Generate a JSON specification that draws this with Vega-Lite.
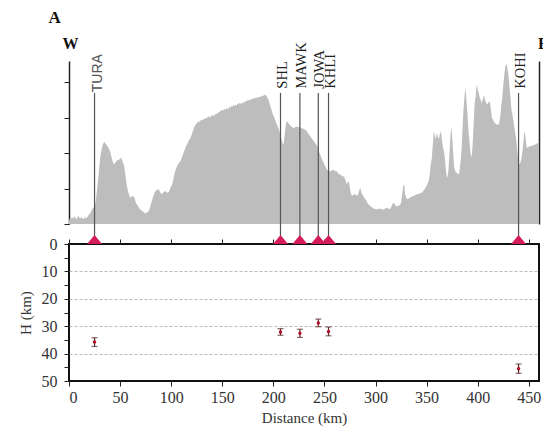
{
"$schema": "https://vega.github.io/schema/vega-lite/v6.json",
"padding": {"left": 17, "top": 9, "right": 0, "bottom": 0},
"background": "white",
"config": {
  "font": "Liberation Serif",
  "view": {"stroke": null},
  "style": {"guide-label": {"font": "Liberation Serif"}, "guide-title": {"font": "Liberation Serif"}},
  "axis": {"labelFont": "Liberation Serif", "titleFont": "Liberation Serif", "labelFontSize": 16, "titleFontSize": 15, "labelColor": "#333333", "titleColor": "#333333", "titleFontWeight": "normal", "domainColor": "#222222", "tickColor": "#222222", "grid": false}
},
"datasets": {
"stations": [
 {"station": "TURA", "dist": 25, "H": 35.8, "err": 1.6},
 {"station": "SHL", "dist": 207, "H": 32.1, "err": 1.2},
 {"station": "MAWK", "dist": 226, "H": 32.6, "err": 1.5},
 {"station": "JOWA", "dist": 244, "H": 28.8, "err": 1.4},
 {"station": "KHLI", "dist": 254, "H": 31.9, "err": 1.6},
 {"station": "KOHI", "dist": 440, "H": 45.5, "err": 1.7}
],
"topo": [
{"d":0,"e":50},{"d":1,"e":85},{"d":2,"e":70},{"d":3,"e":100},{"d":4,"e":75},{"d":5,"e":110},{"d":6,"e":90},{"d":7,"e":70},{"d":8,"e":80},{"d":9,"e":115},{"d":10,"e":90},{"d":11,"e":75},{"d":12,"e":100},{"d":13,"e":85},{"d":14,"e":70},{"d":15,"e":80},{"d":16,"e":95},{"d":17,"e":80},{"d":18,"e":100},{"d":19,"e":120},{"d":20,"e":140},{"d":21,"e":150},{"d":22,"e":190},{"d":23,"e":220},{"d":24,"e":230},{"d":25,"e":250},{"d":26,"e":300},{"d":27,"e":420},{"d":28,"e":560},{"d":29,"e":700},{"d":30,"e":860},{"d":31,"e":980},{"d":32,"e":1060},{"d":33,"e":1120},{"d":34,"e":1150},{"d":35,"e":1155},{"d":36,"e":1130},{"d":37,"e":1110},{"d":38,"e":1085},{"d":39,"e":1070},{"d":40,"e":1030},{"d":41,"e":980},{"d":42,"e":920},{"d":43,"e":870},{"d":44,"e":840},{"d":45,"e":860},{"d":46,"e":880},{"d":47,"e":900},{"d":48,"e":895},{"d":49,"e":910},{"d":50,"e":925},{"d":51,"e":935},{"d":52,"e":900},{"d":53,"e":860},{"d":54,"e":820},{"d":55,"e":720},{"d":56,"e":600},{"d":57,"e":510},{"d":58,"e":450},{"d":59,"e":400},{"d":60,"e":370},{"d":61,"e":380},{"d":62,"e":395},{"d":63,"e":390},{"d":64,"e":370},{"d":65,"e":320},{"d":66,"e":280},{"d":67,"e":270},{"d":68,"e":240},{"d":69,"e":215},{"d":70,"e":200},{"d":71,"e":190},{"d":72,"e":180},{"d":73,"e":165},{"d":74,"e":155},{"d":75,"e":150},{"d":76,"e":160},{"d":77,"e":170},{"d":78,"e":185},{"d":79,"e":220},{"d":80,"e":270},{"d":81,"e":320},{"d":82,"e":370},{"d":83,"e":410},{"d":84,"e":450},{"d":85,"e":470},{"d":86,"e":480},{"d":87,"e":495},{"d":88,"e":480},{"d":89,"e":455},{"d":90,"e":430},{"d":91,"e":425},{"d":92,"e":440},{"d":93,"e":455},{"d":94,"e":465},{"d":95,"e":450},{"d":96,"e":445},{"d":97,"e":440},{"d":98,"e":460},{"d":99,"e":500},{"d":100,"e":530},{"d":101,"e":560},{"d":102,"e":620},{"d":103,"e":690},{"d":104,"e":745},{"d":105,"e":790},{"d":106,"e":820},{"d":107,"e":850},{"d":108,"e":870},{"d":109,"e":885},{"d":110,"e":920},{"d":111,"e":960},{"d":112,"e":1000},{"d":113,"e":1040},{"d":114,"e":1075},{"d":115,"e":1110},{"d":116,"e":1140},{"d":117,"e":1170},{"d":118,"e":1195},{"d":119,"e":1215},{"d":120,"e":1260},{"d":121,"e":1300},{"d":122,"e":1340},{"d":123,"e":1380},{"d":124,"e":1405},{"d":125,"e":1420},{"d":126,"e":1435},{"d":127,"e":1450},{"d":128,"e":1440},{"d":129,"e":1465},{"d":130,"e":1475},{"d":131,"e":1460},{"d":132,"e":1490},{"d":133,"e":1480},{"d":134,"e":1500},{"d":135,"e":1495},{"d":136,"e":1515},{"d":137,"e":1520},{"d":138,"e":1500},{"d":139,"e":1530},{"d":140,"e":1525},{"d":141,"e":1545},{"d":142,"e":1520},{"d":143,"e":1545},{"d":144,"e":1560},{"d":145,"e":1550},{"d":146,"e":1580},{"d":147,"e":1570},{"d":148,"e":1600},{"d":149,"e":1590},{"d":150,"e":1615},{"d":151,"e":1600},{"d":152,"e":1625},{"d":153,"e":1610},{"d":154,"e":1640},{"d":155,"e":1620},{"d":156,"e":1630},{"d":157,"e":1655},{"d":158,"e":1640},{"d":159,"e":1670},{"d":160,"e":1655},{"d":161,"e":1680},{"d":162,"e":1665},{"d":163,"e":1685},{"d":164,"e":1670},{"d":165,"e":1700},{"d":166,"e":1690},{"d":167,"e":1710},{"d":168,"e":1695},{"d":169,"e":1710},{"d":170,"e":1700},{"d":171,"e":1725},{"d":172,"e":1715},{"d":173,"e":1740},{"d":174,"e":1730},{"d":175,"e":1755},{"d":176,"e":1740},{"d":177,"e":1760},{"d":178,"e":1750},{"d":179,"e":1770},{"d":180,"e":1760},{"d":181,"e":1780},{"d":182,"e":1770},{"d":183,"e":1785},{"d":184,"e":1775},{"d":185,"e":1795},{"d":186,"e":1785},{"d":187,"e":1800},{"d":188,"e":1795},{"d":189,"e":1810},{"d":190,"e":1805},{"d":191,"e":1820},{"d":192,"e":1825},{"d":193,"e":1810},{"d":194,"e":1790},{"d":195,"e":1760},{"d":196,"e":1720},{"d":197,"e":1670},{"d":198,"e":1620},{"d":199,"e":1570},{"d":200,"e":1530},{"d":201,"e":1500},{"d":202,"e":1460},{"d":203,"e":1420},{"d":204,"e":1390},{"d":205,"e":1350},{"d":206,"e":1300},{"d":207,"e":1260},{"d":208,"e":1200},{"d":209,"e":1140},{"d":210,"e":1125},{"d":211,"e":1250},{"d":212,"e":1380},{"d":213,"e":1450},{"d":214,"e":1440},{"d":215,"e":1420},{"d":216,"e":1400},{"d":217,"e":1385},{"d":218,"e":1370},{"d":219,"e":1360},{"d":220,"e":1355},{"d":221,"e":1360},{"d":222,"e":1370},{"d":223,"e":1375},{"d":224,"e":1370},{"d":225,"e":1370},{"d":226,"e":1360},{"d":227,"e":1355},{"d":228,"e":1350},{"d":229,"e":1345},{"d":230,"e":1340},{"d":231,"e":1330},{"d":232,"e":1320},{"d":233,"e":1310},{"d":234,"e":1280},{"d":235,"e":1260},{"d":236,"e":1240},{"d":237,"e":1220},{"d":238,"e":1200},{"d":239,"e":1180},{"d":240,"e":1160},{"d":241,"e":1140},{"d":242,"e":1120},{"d":243,"e":1100},{"d":244,"e":1060},{"d":245,"e":1010},{"d":246,"e":970},{"d":247,"e":940},{"d":248,"e":900},{"d":249,"e":870},{"d":250,"e":840},{"d":251,"e":810},{"d":252,"e":780},{"d":253,"e":760},{"d":254,"e":750},{"d":255,"e":745},{"d":256,"e":745},{"d":257,"e":755},{"d":258,"e":765},{"d":259,"e":760},{"d":260,"e":750},{"d":261,"e":745},{"d":262,"e":745},{"d":263,"e":720},{"d":264,"e":710},{"d":265,"e":700},{"d":266,"e":690},{"d":267,"e":680},{"d":268,"e":675},{"d":269,"e":670},{"d":270,"e":640},{"d":271,"e":600},{"d":272,"e":560},{"d":273,"e":590},{"d":274,"e":600},{"d":275,"e":500},{"d":276,"e":430},{"d":277,"e":395},{"d":278,"e":410},{"d":279,"e":420},{"d":280,"e":420},{"d":281,"e":410},{"d":282,"e":400},{"d":283,"e":420},{"d":284,"e":470},{"d":285,"e":520},{"d":286,"e":450},{"d":287,"e":420},{"d":288,"e":395},{"d":289,"e":370},{"d":290,"e":350},{"d":291,"e":330},{"d":292,"e":300},{"d":293,"e":280},{"d":294,"e":265},{"d":295,"e":255},{"d":296,"e":240},{"d":297,"e":230},{"d":298,"e":220},{"d":299,"e":215},{"d":300,"e":210},{"d":301,"e":205},{"d":302,"e":210},{"d":303,"e":215},{"d":304,"e":210},{"d":305,"e":220},{"d":306,"e":210},{"d":307,"e":205},{"d":308,"e":200},{"d":309,"e":215},{"d":310,"e":225},{"d":311,"e":230},{"d":312,"e":220},{"d":313,"e":215},{"d":314,"e":210},{"d":315,"e":230},{"d":316,"e":260},{"d":317,"e":290},{"d":318,"e":300},{"d":319,"e":270},{"d":320,"e":250},{"d":321,"e":250},{"d":322,"e":255},{"d":323,"e":260},{"d":324,"e":270},{"d":325,"e":300},{"d":326,"e":400},{"d":327,"e":530},{"d":328,"e":560},{"d":329,"e":420},{"d":330,"e":370},{"d":331,"e":350},{"d":332,"e":355},{"d":333,"e":365},{"d":334,"e":375},{"d":335,"e":380},{"d":336,"e":390},{"d":337,"e":395},{"d":338,"e":400},{"d":339,"e":410},{"d":340,"e":415},{"d":341,"e":420},{"d":342,"e":425},{"d":343,"e":430},{"d":344,"e":435},{"d":345,"e":440},{"d":346,"e":450},{"d":347,"e":470},{"d":348,"e":490},{"d":349,"e":510},{"d":350,"e":540},{"d":351,"e":570},{"d":352,"e":605},{"d":353,"e":700},{"d":354,"e":840},{"d":355,"e":920},{"d":356,"e":1100},{"d":357,"e":1310},{"d":358,"e":1250},{"d":359,"e":1200},{"d":360,"e":1285},{"d":361,"e":1230},{"d":362,"e":1200},{"d":363,"e":1270},{"d":364,"e":1310},{"d":365,"e":1180},{"d":366,"e":1080},{"d":367,"e":1030},{"d":368,"e":900},{"d":369,"e":750},{"d":370,"e":650},{"d":371,"e":700},{"d":372,"e":900},{"d":373,"e":1150},{"d":374,"e":1380},{"d":375,"e":1250},{"d":376,"e":1000},{"d":377,"e":800},{"d":378,"e":745},{"d":379,"e":730},{"d":380,"e":715},{"d":381,"e":700},{"d":382,"e":720},{"d":383,"e":850},{"d":384,"e":1000},{"d":385,"e":1300},{"d":386,"e":1600},{"d":387,"e":1780},{"d":388,"e":1920},{"d":389,"e":1750},{"d":390,"e":1550},{"d":391,"e":1310},{"d":392,"e":1150},{"d":393,"e":1000},{"d":394,"e":935},{"d":395,"e":1100},{"d":396,"e":1400},{"d":397,"e":1700},{"d":398,"e":1800},{"d":399,"e":1965},{"d":400,"e":1900},{"d":401,"e":1850},{"d":402,"e":1780},{"d":403,"e":1750},{"d":404,"e":1700},{"d":405,"e":1760},{"d":406,"e":1825},{"d":407,"e":1760},{"d":408,"e":1720},{"d":409,"e":1685},{"d":410,"e":1700},{"d":411,"e":1720},{"d":412,"e":1730},{"d":413,"e":1600},{"d":414,"e":1495},{"d":415,"e":1470},{"d":416,"e":1440},{"d":417,"e":1420},{"d":418,"e":1410},{"d":419,"e":1400},{"d":420,"e":1400},{"d":421,"e":1420},{"d":422,"e":1500},{"d":423,"e":1650},{"d":424,"e":1780},{"d":425,"e":1950},{"d":426,"e":2100},{"d":427,"e":2220},{"d":428,"e":2270},{"d":429,"e":2200},{"d":430,"e":2100},{"d":431,"e":1950},{"d":432,"e":1800},{"d":433,"e":1620},{"d":434,"e":1545},{"d":435,"e":1450},{"d":436,"e":1350},{"d":437,"e":1265},{"d":438,"e":1150},{"d":439,"e":1000},{"d":440,"e":880},{"d":441,"e":840},{"d":442,"e":880},{"d":443,"e":935},{"d":444,"e":1050},{"d":445,"e":1200},{"d":446,"e":1310},{"d":447,"e":1200},{"d":448,"e":1075},{"d":449,"e":1080},{"d":450,"e":1090},{"d":451,"e":1095},{"d":452,"e":1100},{"d":453,"e":1100},{"d":454,"e":1110},{"d":455,"e":1115},{"d":456,"e":1120},{"d":457,"e":1130},{"d":458,"e":1135},{"d":459,"e":1140},{"d":460,"e":1145}
]
},
"bounds": "flush",
"spacing": 20,
"vconcat": [
 {
  "width": 470,
  "height": 163,
  "resolve": {"axis": {"y": "independent"}},
  "layer": [
   {
    "data": {"name": "topo"},
    "mark": {"type": "area", "color": "#bdbdbd", "opacity": 1},
    "encoding": {
     "x": {"field": "d", "type": "quantitative", "scale": {"domain": [0, 460], "nice": false}, "axis": {"orient": "bottom", "title": null, "labels": false, "ticks": false, "domainWidth": 2, "domainColor": "#444444"}},
     "y": {"field": "e", "type": "quantitative", "scale": {"domain": [0, 2300], "nice": false}, "axis": {"orient": "left", "title": null, "labels": false, "values": [0, 500, 1000, 1500, 2000], "tickSize": 5, "domainWidth": 1.5}}
    }
   },
   {
    "data": {"name": "stations"},
    "mark": {"type": "rule", "color": "#555555", "strokeWidth": 1.2},
    "encoding": {
     "x": {"field": "dist", "type": "quantitative", "axis": null},
     "y": {"datum": 1850, "type": "quantitative", "axis": {"orient": "right", "title": null, "labels": false, "ticks": false, "domainWidth": 1.5}},
     "y2": {"datum": -282}
    }
   },
   {
    "data": {"name": "stations"},
    "transform": [{"filter": "datum.station === 'TURA'"}],
    "mark": {"type": "text", "angle": 270, "align": "left", "baseline": "middle", "dy": 3, "font": "Liberation Sans", "fontSize": 14, "color": "#555555"},
    "encoding": {
     "x": {"field": "dist", "type": "quantitative", "axis": null},
     "y": {"datum": 1860, "type": "quantitative", "axis": null},
     "text": {"field": "station"}
    }
   },
   {
    "data": {"name": "stations"},
    "transform": [{"filter": "datum.station !== 'TURA'"}],
    "mark": {"type": "text", "angle": 270, "align": "left", "baseline": "middle", "dy": 2, "font": "Liberation Serif", "fontSize": 14.5, "color": "#222222"},
    "encoding": {
     "x": {"field": "dist", "type": "quantitative", "axis": null},
     "y": {"datum": 1910, "type": "quantitative", "axis": null},
     "text": {"field": "station"}
    }
   },
   {
    "data": {"values": [{}]},
    "mark": {"type": "text", "font": "Liberation Serif", "fontWeight": "bold", "fontSize": 16, "color": "#111111", "baseline": "middle"},
    "encoding": {
     "x": {"datum": 1.5, "type": "quantitative", "axis": null},
     "y": {"datum": 2540, "type": "quantitative", "axis": null},
     "text": {"value": "W"}
    }
   },
   {
    "data": {"values": [{}]},
    "mark": {"type": "text", "font": "Liberation Serif", "fontWeight": "bold", "fontSize": 16, "color": "#111111", "baseline": "middle", "align": "left"},
    "encoding": {
     "x": {"datum": 459, "type": "quantitative", "axis": null},
     "y": {"datum": 2540, "type": "quantitative", "axis": null},
     "text": {"value": "E"}
    }
   },
   {
    "data": {"values": [{}]},
    "mark": {"type": "text", "font": "Liberation Serif", "fontWeight": "bold", "fontSize": 17, "color": "#111111", "baseline": "middle"},
    "encoding": {
     "x": {"datum": -14, "type": "quantitative", "axis": null},
     "y": {"datum": 2900, "type": "quantitative", "axis": null},
     "text": {"value": "A"}
    }
   }
  ]
 },
 {
  "width": 470,
  "height": 137,
  "view": {"stroke": "#111111", "strokeWidth": 2},
  "data": {"name": "stations"},
  "resolve": {"axis": {"x": "independent"}},
  "layer": [
   {
    "mark": {"type": "errorbar", "ticks": {"size": 6, "color": "#5a2828"}, "color": "#5a2828", "thickness": 1.2},
    "encoding": {
     "x": {"field": "dist", "type": "quantitative", "scale": {"domain": [0, 460], "nice": false}, "axis": null},
     "y": {"field": "H", "type": "quantitative", "scale": {"domain": [0, 50], "reverse": true, "nice": false}, "axis": {"title": "H (km)", "labelFont": "Liberation Serif", "titleFont": "Liberation Serif", "values": [0, 5, 10, 15, 20, 25, 30, 35, 40, 45, 50], "labelExpr": "datum.value % 10 === 0 ? datum.label : ''", "tickSize": 5, "labelPadding": 7, "titlePadding": 8, "domain": false, "grid": true, "gridDash": [3, 2], "gridColor": "#bbbbbb", "gridOpacity": {"condition": {"test": "datum.value % 10 === 0 && datum.value > 0 && datum.value < 50", "value": 1}, "value": 0}}},
     "yError": {"field": "err"}
    }
   },
   {
    "mark": {"type": "point", "filled": true, "size": 12, "color": "#b0102a", "opacity": 1},
    "encoding": {
     "x": {"field": "dist", "type": "quantitative", "axis": {"orient": "bottom", "title": "Distance (km)", "labelFont": "Liberation Serif", "titleFont": "Liberation Serif", "values": [0, 50, 100, 150, 200, 250, 300, 350, 400, 450], "tickSize": 5, "labelPadding": 3, "titlePadding": 5, "domain": false}},
     "y": {"field": "H", "type": "quantitative", "axis": {"title": "H (km)", "labelFont": "Liberation Serif", "titleFont": "Liberation Serif", "values": [0, 5, 10, 15, 20, 25, 30, 35, 40, 45, 50], "labelExpr": "datum.value % 10 === 0 ? datum.label : ''", "tickSize": 5, "labelPadding": 7, "titlePadding": 8, "domain": false, "grid": true, "gridDash": [3, 2], "gridColor": "#bbbbbb", "gridOpacity": {"condition": {"test": "datum.value % 10 === 0 && datum.value > 0 && datum.value < 50", "value": 1}, "value": 0}}}
    }
   },
   {
    "mark": {"type": "point", "shape": "M-1,0L0,-1.2L1,0Z", "filled": true, "size": 225, "color": "#d41c5c", "opacity": 1},
    "encoding": {
     "x": {"field": "dist", "type": "quantitative", "axis": {"orient": "top", "title": null, "labels": false, "values": [0, 50, 100, 150, 200, 250, 300, 350, 400, 450], "tickSize": 5, "domain": false}},
     "y": {"datum": 0, "type": "quantitative", "axis": {"title": "H (km)", "labelFont": "Liberation Serif", "titleFont": "Liberation Serif", "values": [0, 5, 10, 15, 20, 25, 30, 35, 40, 45, 50], "labelExpr": "datum.value % 10 === 0 ? datum.label : ''", "tickSize": 5, "labelPadding": 7, "titlePadding": 8, "domain": false, "grid": true, "gridDash": [3, 2], "gridColor": "#bbbbbb", "gridOpacity": {"condition": {"test": "datum.value % 10 === 0 && datum.value > 0 && datum.value < 50", "value": 1}, "value": 0}}}
    }
   }
  ]
 }
]
}
